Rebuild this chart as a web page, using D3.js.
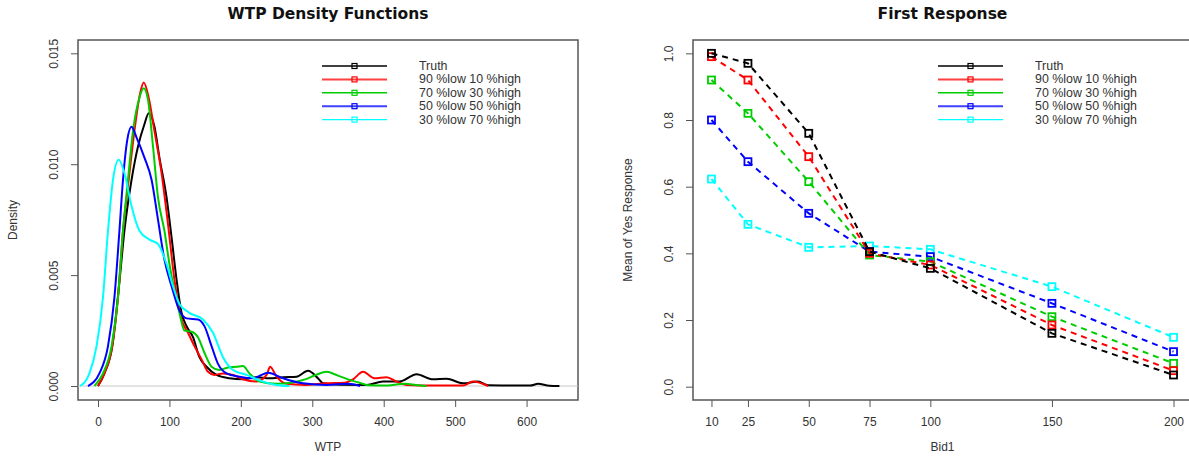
<!DOCTYPE html>
<html>
<head>
<meta charset="utf-8">
<script src="https://cdn.jsdelivr.net/npm/d3@7"></script>
<style>
  body { margin: 0; background: #fff; }
  svg { display: block; font-family: "Liberation Sans", Arial, Helvetica, sans-serif; }
</style>
</head>
<body>
<svg id="chart" width="1189" height="460"></svg>
<script>
// --- data: left panel, kernel density curves as [WTP, density] ---
const densTruth = [[0,0],[9,0.00057],[20,0.0018],[30,0.0047],[37,0.007],[47,0.0093],[56,0.0108],[65,0.0118],[71,0.0123],
  [79,0.0117],[86,0.0103],[96,0.0085],[103,0.0067],[110,0.0048],[117,0.0033],[124,0.0027],[133,0.0022],[142,0.0013],
  [152,0.00087],[166,0.0005],[184,0.00035],[203,0.0003],[222,0.0004],[240,0.00035],[259,0.0004],[278,0.00042],
  [294,0.00069],[308,0.00035],[315,0.00012],[340,0.00006],[376,0.00005],[399,0.0002],[422,0.0002],[446,0.00053],
  [469,0.0003],[488,0.00033],[511,0.00012],[532,0.0002],[546,0.00003],[580,0.00002],[605,0.00002],[616,0.0001],[632,0.00001],[646,0]];
const densLow90 = [[0,0],[9,0.00057],[20,0.0018],[28,0.004],[35,0.007],[43,0.0093],[51,0.0115],[59,0.0132],[64,0.01368],
  [71,0.013],[79,0.0115],[89,0.0096],[98,0.0073],[107,0.0048],[117,0.003],[126,0.0024],[135,0.0018],[145,0.0012],
  [154,0.00064],[163,0.0005],[175,0.00057],[189,0.0005],[203,0.0003],[222,0.0002],[236,0.0005],[241,0.00087],
  [250,0.00042],[264,0.0001],[290,0.00005],[320,0.00012],[345,0.00015],[357,0.0003],[371,0.00064],[387,0.00035],
  [404,0.0004],[418,0.0002],[432,0.00005],[470,0.00002],[511,0.00002],[525,0.0002],[546,0]];
const densLow70 = [[-5,0],[7,0.00057],[19,0.0018],[28,0.004],[35,0.007],[42,0.0093],[49,0.0115],[58,0.013],[64,0.01342],
  [70,0.0129],[77,0.0108],[84,0.0085],[93,0.007],[100,0.0055],[107,0.0043],[114,0.0033],[121,0.0025],[131,0.00245],
  [140,0.0022],[149,0.0015],[159,0.00087],[170,0.00072],[182,0.00084],[194,0.00087],[203,0.0009],[212,0.00057],
  [226,0.0002],[250,0.0001],[270,0.00015],[290,0.0003],[305,0.0005],[320,0.00064],[335,0.00048],[350,0.0003],
  [366,0.00015],[380,0.00003],[400,0.00002],[430,0.0001],[445,0.00005],[460,0]];
const densLow50 = [[-14,0],[2,0.00057],[14,0.0018],[23,0.004],[30,0.007],[35,0.0093],[41,0.0111],[47,0.01169],
  [54,0.0112],[65,0.0103],[75,0.0093],[84,0.0075],[93,0.0057],[103,0.0045],[114,0.0034],[124,0.00305],[140,0.003],
  [149,0.0027],[159,0.0018],[168,0.001],[180,0.00057],[198,0.00042],[217,0.00035],[238,0.0006],[259,0.00035],
  [287,0.00012],[320,0.00005],[350,0.0001],[367,0]];
const densLow30 = [[-25,0],[-12,0.00057],[-2,0.0018],[7,0.004],[14,0.007],[21,0.0093],[29,0.0102],[37,0.0096],
  [47,0.0081],[58,0.007],[72,0.0066],[84,0.0064],[96,0.0055],[105,0.0045],[114,0.0037],[128,0.0033],[147,0.003],
  [161,0.0024],[175,0.0013],[189,0.00072],[208,0.0005],[231,0.0002],[250,0.00005],[268,0]];

// --- data: right panel, mean of yes response by first bid ---
const bids = [10, 25, 50, 75, 100, 150, 200];
const yesTruth = [1.0, 0.97, 0.76, 0.405, 0.355, 0.16, 0.035];
const yesLow90 = [0.99, 0.92, 0.69, 0.40, 0.365, 0.185, 0.048];
const yesLow70 = [0.92, 0.82, 0.615, 0.395, 0.375, 0.21, 0.07];
const yesLow50 = [0.80, 0.675, 0.52, 0.405, 0.39, 0.25, 0.105];
const yesLow30 = [0.623, 0.487, 0.418, 0.422, 0.412, 0.30, 0.148];

const seriesLabels = ['Truth', '90 %low 10 %high', '70 %low 30 %high', '50 %low 50 %high', '30 %low 70 %high'];
const seriesColors = ['#000000', '#ff0000', '#00cd00', '#0000ff', '#00ffff'];
const wtpTicks = [0, 100, 200, 300, 400, 500, 600];
const densTicks = [0, 0.005, 0.010, 0.015];
const yesTicks = [0, 0.2, 0.4, 0.6, 0.8, 1.0];

const svg = d3.select('#chart');
const axisColor = '#555';
const labelColor = '#333';

function drawFrame(box, title, xTitle, yTitle, xScale, yScale, xTickVals, yTickVals, yFmt) {
    const g = svg.append('g');
    const xAxis = d3.axisBottom(xScale).tickValues(xTickVals).tickSize(7).tickPadding(10).tickFormat(d3.format('d'));
    const yAxis = d3.axisLeft(yScale).tickValues(yTickVals).tickSize(7).tickFormat(yFmt);

    const gx = g.append('g').attr('transform', `translate(0,${box.y1})`).call(xAxis);
    const gy = g.append('g').attr('transform', `translate(${box.x0},0)`).call(yAxis);
    [gx, gy].forEach(a => {
        a.select('.domain').remove();
        a.selectAll('line').attr('stroke', axisColor);
        a.selectAll('text').attr('fill', labelColor).attr('font-size', 12);
    });
    gy.selectAll('text')
        .attr('x', null).attr('dy', null)
        .attr('text-anchor', 'middle')
        .attr('transform', 'translate(-20,0) rotate(-90)');

    g.append('rect')
        .attr('x', box.x0).attr('y', box.y0)
        .attr('width', box.x1 - box.x0).attr('height', box.y1 - box.y0)
        .attr('fill', 'none').attr('stroke', axisColor).attr('stroke-width', 1.5);

    const cx = (box.x0 + box.x1) / 2;
    g.append('text').text(title)
        .attr('x', cx).attr('y', 19).attr('text-anchor', 'middle')
        .attr('font-family', '"DejaVu Sans", sans-serif')
        .attr('font-size', 15.5).attr('font-weight', 'bold').attr('fill', '#111');
    g.append('text').text(xTitle)
        .attr('x', cx).attr('y', 451).attr('text-anchor', 'middle')
        .attr('font-size', 12).attr('fill', labelColor);
    g.append('text').text(yTitle)
        .attr('transform', `translate(${box.x0 - 61},${(box.y0 + box.y1) / 2}) rotate(-90)`)
        .attr('text-anchor', 'middle').attr('font-size', 12).attr('fill', labelColor);
}

function drawLegend(x, y) {
    const lg = svg.append('g').attr('transform', `translate(${x},${y})`);
    seriesLabels.forEach((lab, i) => {
        const row = lg.append('g').attr('transform', `translate(0,${i * 13.4})`);
        row.append('line').attr('x1', 0).attr('x2', 65).attr('y1', 0).attr('y2', 0)
            .attr('stroke', seriesColors[i]).attr('stroke-width', (i === 1 || i === 3) ? 2 : 1.4)
            .attr('stroke-opacity', (i === 1 || i === 3) ? 0.75 : 1);
        row.append('rect').attr('x', 30).attr('y', -2.5).attr('width', 5).attr('height', 5)
            .attr('fill', 'none').attr('stroke', seriesColors[i]).attr('stroke-width', 1.2);
        row.append('text').text(lab).attr('x', 97).attr('y', 4)
            .attr('font-size', 12.4).attr('fill', labelColor);
    });
}

// --- left panel ---
const boxL = {x0: 78, x1: 578, y0: 40, y1: 400};
const xL = d3.scaleLinear().domain([-28, 672]).range([boxL.x0, boxL.x1]);
const yL = d3.scaleLinear().domain([-0.00063, 0.0156]).range([boxL.y1, boxL.y0]);

drawFrame(boxL, 'WTP Density Functions', 'WTP', 'Density', xL, yL, wtpTicks, densTicks, d3.format('.3f'));

svg.append('line')
    .attr('x1', boxL.x0).attr('x2', boxL.x1)
    .attr('y1', yL(0)).attr('y2', yL(0))
    .attr('stroke', '#c8c8c8').attr('stroke-width', 1);

const densLine = d3.line().x(d => xL(d[0])).y(d => yL(d[1])).curve(d3.curveMonotoneX);
[densTruth, densLow90, densLow70, densLow50, densLow30].forEach((s, i) => {
    svg.append('path').datum(s)
        .attr('d', densLine)
        .attr('fill', 'none')
        .attr('stroke', seriesColors[i])
        .attr('stroke-width', 2);
});

drawLegend(322, 66);

// --- right panel ---
const boxR = {x0: 693, x1: 1192, y0: 40, y1: 400};
const xR = d3.scaleLinear().domain([2.4, 207.6]).range([boxR.x0, boxR.x1]);
const yR = d3.scaleLinear().domain([-0.04, 1.04]).range([boxR.y1, boxR.y0]);

drawFrame(boxR, 'First Response', 'Bid1', 'Mean of Yes Response', xR, yR, bids, yesTicks, d3.format('.1f'));

const yesLine = d3.line().x((d, i) => xR(bids[i])).y(d => yR(d));
const yesSeries = [yesTruth, yesLow90, yesLow70, yesLow50, yesLow30];
[4, 3, 2, 1, 0].forEach(i => {
    const s = yesSeries[i];
    svg.append('path').datum(s)
        .attr('d', yesLine)
        .attr('fill', 'none')
        .attr('stroke', seriesColors[i])
        .attr('stroke-width', 2)
        .attr('stroke-dasharray', '6,5');
    svg.append('g').selectAll('rect')
        .data(s)
        .join('rect')
        .attr('x', (d, j) => xR(bids[j]) - 3.5)
        .attr('y', d => yR(d) - 3.5)
        .attr('width', 7).attr('height', 7)
        .attr('fill', 'none')
        .attr('stroke', seriesColors[i])
        .attr('stroke-width', 1.8);
});

drawLegend(938, 66);
</script>
</body>
</html>
